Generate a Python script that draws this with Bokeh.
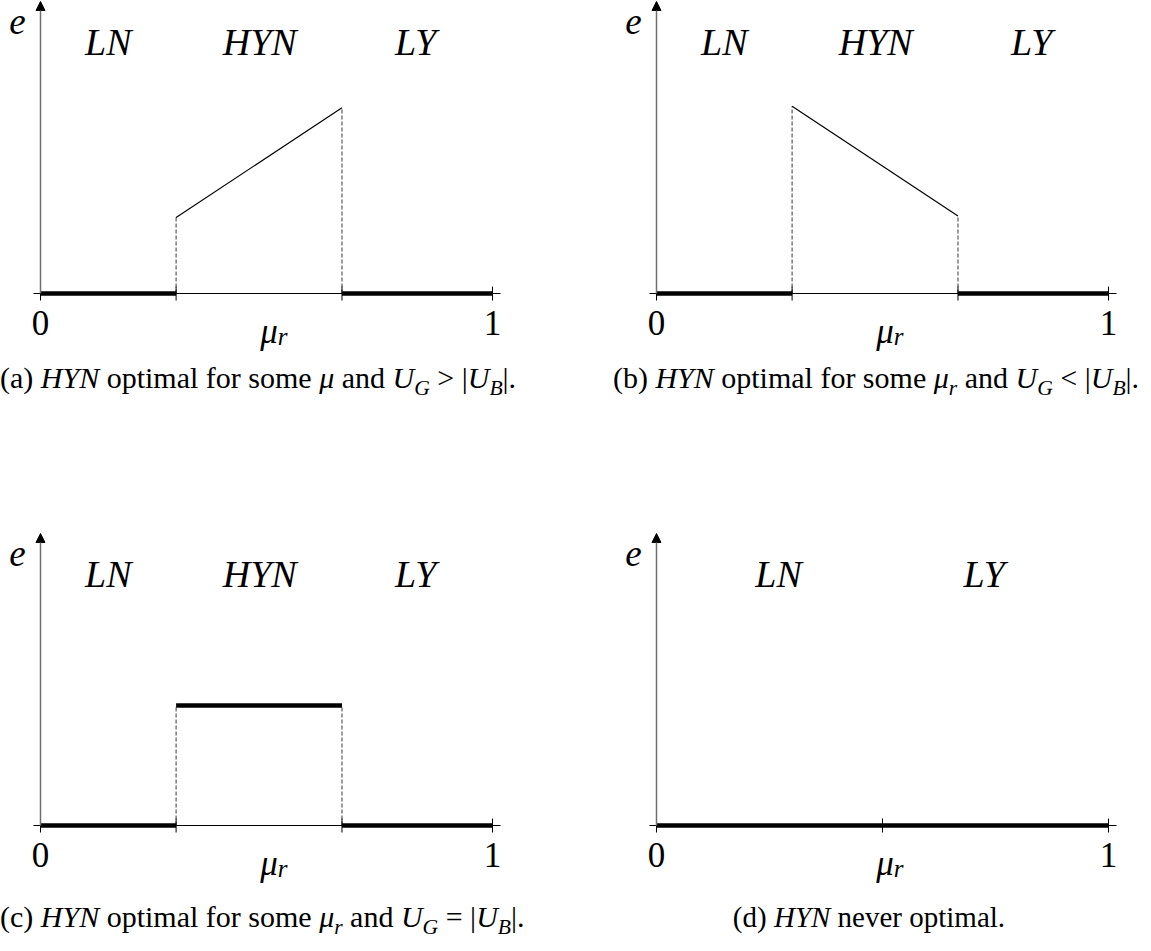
from bokeh.plotting import figure
from bokeh.layouts import column, row
from bokeh.models import Range1d, Arrow, NormalHead, Div
from bokeh.core.properties import value
from bokeh.embed import file_html
from bokeh.resources import INLINE

# regime boundaries along mu_r
mu_lo = 0.30
mu_hi = 0.667

# effort e on the HYN stretch, at mu_lo and mu_hi
e_hyn_a = [0.26, 0.635]
e_hyn_b = [0.64, 0.265]
e_hyn_c = [0.41, 0.41]

# regime names and their horizontal positions
regions_3 = ["LN", "HYN", "LY"]
regions_3_x = [0.15, 0.485, 0.83]
regions_2 = ["LN", "LY"]
regions_2_x = [0.27, 0.725]

# axis ticks and tick labels
ticks_3 = [0.0, mu_lo, mu_hi, 1.0]
ticks_d = [0.0, 0.5, 1.0]
tick_labels = ["0", "1"]
tick_label_x = [0.0, 1.0]

captions = [
    '(a) <i>HYN</i> optimal for some <i>&mu;</i> and <i>U</i><sub>G</sub> &gt; |<i>U</i><sub>B</sub>|.',
    '(b) <i>HYN</i> optimal for some <i>&mu;</i><sub>r</sub> and <i>U</i><sub>G</sub> &lt; |<i>U</i><sub>B</sub>|.',
    '(c) <i>HYN</i> optimal for some <i>&mu;</i><sub>r</sub> and <i>U</i><sub>G</sub> = |<i>U</i><sub>B</sub>|.',
    '(d) <i>HYN</i> never optimal.',
]

# ---- drawing geometry (pixels) ----
SX = 452.0        # px per unit of mu_r
SY = 292.5        # px per unit of e
PANEL_H = 352
BASE_PX = 293     # distance of the e = 0 line from the panel top
FONT = value("Liberation Serif")


def px_x(px):
    return px / SX


def px_y(px):
    return px / SY


def make_panel(left_px, width, ticks, thick_spans, hyn_e, hyn_thick, regions, regions_x, mu_label_x):
    x0 = -left_px / SX
    x1 = (width - left_px) / SX
    p = figure(width=width, height=PANEL_H,
               x_range=Range1d(x0, x1),
               y_range=Range1d(-(PANEL_H - BASE_PX) / SY, BASE_PX / SY),
               output_backend="svg", toolbar_location=None,
               x_axis_type=None, y_axis_type=None, min_border=0,
               outline_line_color=None, border_fill_color="white")

    # vertical e axis with arrow head
    p.add_layout(Arrow(x_start=0, y_start=0, x_end=0, y_end=px_y(BASE_PX - 1),
                       line_color="#6f6f6f", line_width=1.5,
                       end=NormalHead(size=9, fill_color="black", line_color="black")))

    # dashed drop lines under the HYN stretch
    if hyn_e is not None:
        p.segment(x0=[mu_lo, mu_hi], y0=[0, 0], x1=[mu_lo, mu_hi], y1=hyn_e,
                  line_color="#4a4a4a", line_width=1.1, line_dash="4 2")

    # mu_r axis line and ticks
    p.segment(x0=[px_x(-7)], y0=[0], x1=[1 + px_x(8)], y1=[0], line_color="black", line_width=1)
    t = px_y(7)
    p.segment(x0=ticks, y0=[-t] * len(ticks), x1=ticks, y1=[t] * len(ticks),
              line_color="black", line_width=1)

    # e = 0 stretches
    p.segment(x0=[s[0] for s in thick_spans], y0=[0] * len(thick_spans),
              x1=[s[1] for s in thick_spans], y1=[0] * len(thick_spans),
              line_color="black", line_width=4.5, line_cap="butt")

    # HYN stretch
    if hyn_e is not None:
        p.line(x=[mu_lo, mu_hi], y=hyn_e, line_color="black",
               line_width=4.5 if hyn_thick else 1.2, line_cap="butt")

    # labels
    p.text(x=[px_x(-23)], y=[px_y(272)], text=["e"], text_font=FONT, text_font_style="italic",
           text_font_size="37px", text_align="center", text_baseline="middle", text_color="black")
    p.text(x=regions_x, y=[px_y(252)] * len(regions), text=regions, text_font=FONT,
           text_font_style="italic", text_font_size="38px", text_align="center",
           text_baseline="middle", text_color="black")
    p.text(x=tick_label_x, y=[px_y(-29)] * 2, text=tick_labels, text_font=FONT,
           text_font_size="35px", text_align="center", text_baseline="middle", text_color="black")
    p.text(x=[mu_label_x], y=[px_y(-38)], text=["\u03bc"], text_font=FONT, text_font_style="italic",
           text_font_size="35px", text_align="right", text_baseline="alphabetic", text_color="black")
    p.text(x=[mu_label_x], y=[px_y(-43)], text=["r"], text_font=FONT, text_font_style="italic",
           text_font_size="25px", text_align="left", text_baseline="alphabetic", text_color="black")
    return p


def caption(html, width, height, center_px, top_px, size):
    w = 2 * center_px
    style = (f"font-family:'Liberation Serif';font-size:{size}px;line-height:30px;color:black;"
             f"white-space:nowrap;text-align:center;width:{w}px;margin-top:{top_px}px;")
    html = html.replace("<sub>", '<sub style="font-size:0.72em;line-height:0;font-style:italic;">')
    return Div(text=f'<div style="{style}">{html}</div>', width=width, height=height, margin=0)


spans_3 = [(0.0, mu_lo), (mu_hi, 1.0)]
spans_d = [(0.0, 1.0)]

pa = make_panel(40, 575, ticks_3, spans_3, e_hyn_a, False, regions_3, regions_3_x, 0.525)
pb = make_panel(81, 576, ticks_3, spans_3, e_hyn_b, False, regions_3, regions_3_x, 0.525)
pc = make_panel(40, 575, ticks_3, spans_3, e_hyn_c, True, regions_3, regions_3_x, 0.525)
pd = make_panel(81, 576, ticks_d, spans_d, None, False, regions_2, regions_2_x, 0.525)

ca = caption(captions[0], 575, 180, 255, 11, 30)
cb = caption(captions[1], 576, 180, 301, 11, 30)
cc = caption(captions[2], 575, 67, 255, 18, 30)
cd = caption(captions[3], 576, 67, 294, 18, 29)

layout = column(row(pa, pb), row(ca, cb), row(pc, pd), row(cc, cd))

open("out.html", "w").write(file_html(layout, INLINE))
